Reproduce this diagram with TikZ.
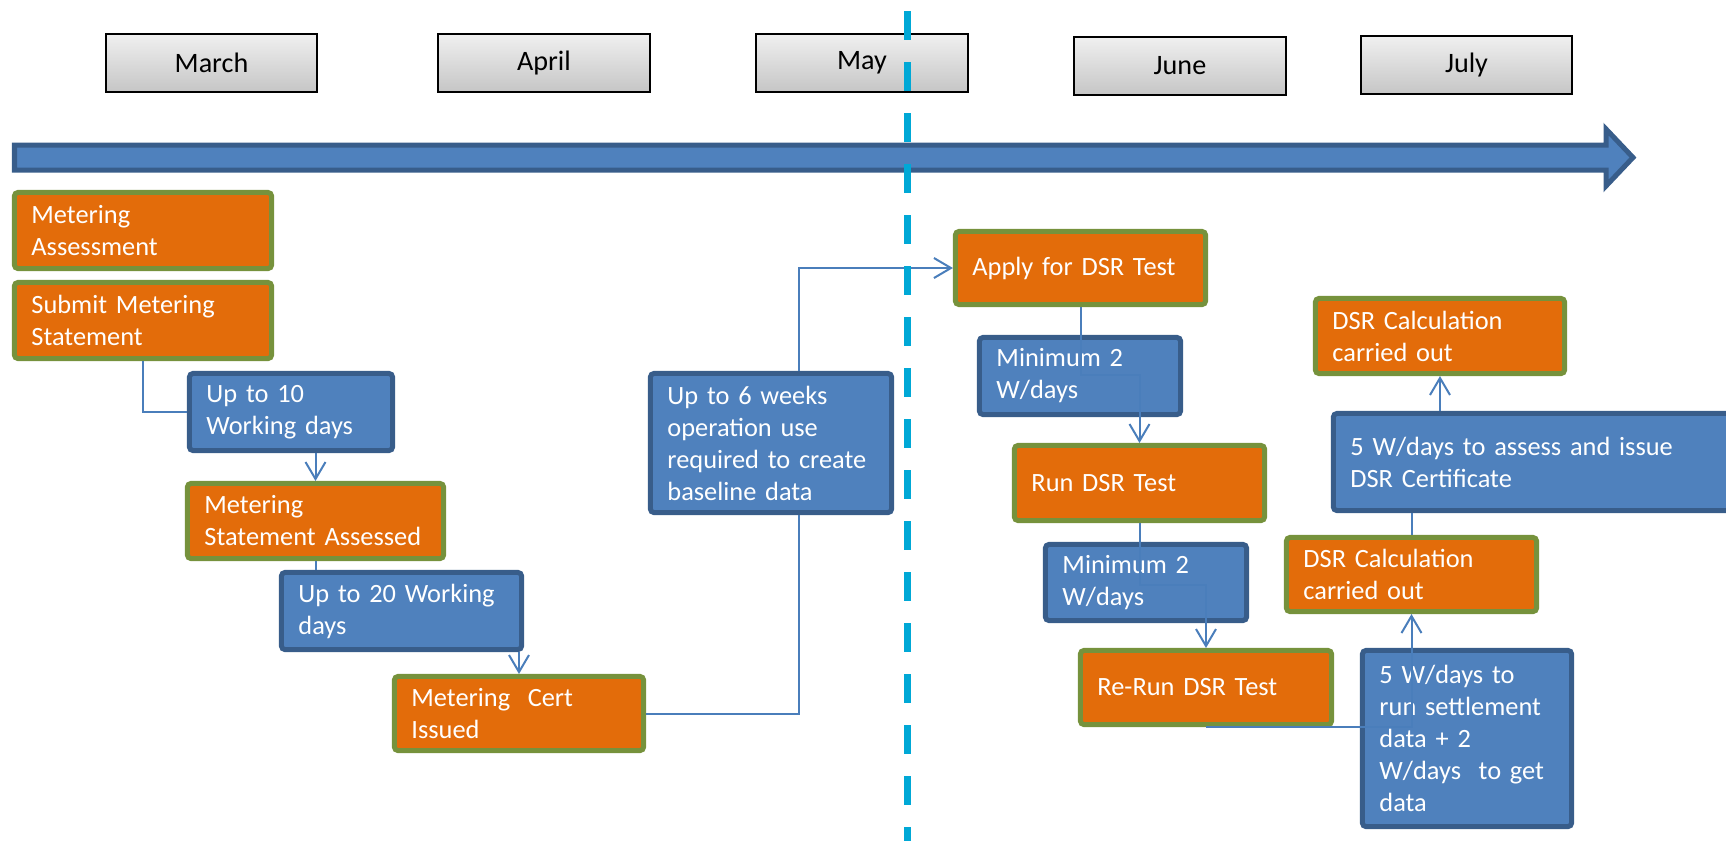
\documentclass[tikz,border=0pt]{standalone}
\definecolor{eventorange}{RGB}{227, 108, 10}
\definecolor{eventgreen}{RGB}{118, 146, 60}
\definecolor{waitblue}{RGB}{79, 129, 189}
\definecolor{waitedge}{RGB}{56, 93, 138}
\definecolor{linkblue}{RGB}{74, 126, 187}
\definecolor{todayblue}{RGB}{0, 168, 214}
\usepackage{fontspec}
\setmainfont{Carlito}
\usepackage{tikz}
\usetikzlibrary{arrows.meta, calc}

\tikzset{
  month/.style={draw=black, line width=0.02cm, top color=gray!12, bottom color=gray!45, inner sep=0pt,
    minimum width=2.11cm, minimum height=0.58cm, font=\fontsize{8}{9.6}\selectfont},
  event/.style={draw=eventgreen, fill=eventorange, line width=0.05cm, text=white, align=left,
    inner xsep=0.17cm, inner ysep=0.05cm, rounded corners=1pt, font=\fontsize{7.5}{9.1}\selectfont},
  wait/.style={event, draw=waitedge, fill=waitblue},
  link/.style={draw=linkblue, line width=0.02cm},
  linkto/.style={link, -{Straight Barb[length=0.17cm, width=0.2cm]}}
}

\begin{document}
\begin{tikzpicture}[x=0.01cm, y=-0.01cm]
  \useasboundingbox (0,0) rectangle (1726,841);
  \clip (0,0) rectangle (1726,841);

  % Month headers
  \node[month] (march) at (211.5, 63) {March};
  \node[month] (april) at (544, 63) {April};
  \node[month] (may) at (862, 63) {May};
  \node[month] (june) at (1180, 66) {June};
  \node[month] (july) at (1466.5, 65) {July};

  % Time axis
  \draw[line width=0.05cm, draw=waitedge, fill=waitblue] (14.5,145) -- (1606,145) -- (1606,129) -- (1633,157.5)
    -- (1606,186) -- (1606,170) -- (14.5,170) -- cycle;

  % Metering steps
  \node[event, text width=2.23cm, minimum height=0.76cm] (assess) at (143, 230.5) {Metering\\Assessment};
  \node[event, text width=2.23cm, minimum height=0.76cm] (submit) at (143, 320.5) {Submit Metering\\Statement};
  \node[wait, text width=1.69cm, minimum height=0.77cm] (upten) at (291, 412) {Up to 10\\Working days};
  \node[event, text width=2.22cm, minimum height=0.75cm] (stmtok) at (315.5, 521) {Metering\\Statement Assessed};
  \node[wait, text width=2.06cm, minimum height=0.77cm] (uptwenty) at (401.5, 611) {Up to 20 Working\\days};
  \node[event, text width=2.15cm, minimum height=0.74cm] (cert) at (519, 713.5) {Metering~ Cert\\Issued};
  \node[wait, text width=2.07cm, minimum height=1.39cm] (sixweeks) at (771, 443)
    {Up to 6 weeks\\operation use\\required to create\\baseline data};

  % DSR steps
  \node[event, text width=2.16cm, minimum height=0.73cm] (apply) at (1080.5, 268) {Apply for DSR Test};
  \node[wait, text width=1.67cm, minimum height=0.77cm] (mintwoa) at (1080, 376) {Minimum 2\\W/days};
  \node[event, text width=2.16cm, minimum height=0.75cm] (rundsr) at (1139.5, 483) {Run DSR Test};
  \node[wait, text width=1.67cm, minimum height=0.76cm] (mintwob) at (1146, 582.5) {Minimum 2\\W/days};
  \node[event, text width=2.17cm, minimum height=0.74cm] (rerun) at (1206, 687.5) {Re-Run DSR Test};
  \node[wait, text width=1.75cm, minimum height=1.76cm] (settle) at (1467, 738.5)
    {5 W/days to\\run settlement\\data + 2\\W/days~ to get\\data};
  \node[event, text width=2.16cm, minimum height=0.74cm] (calclow) at (1411.5, 574.5) {DSR Calculation\\carried out};
  \node[wait, text width=3.90cm, minimum height=0.97cm] (certdays) at (1545.5, 462)
    {5 W/days to assess and issue\\DSR Certificate};
  \node[event, text width=2.15cm, minimum height=0.75cm] (calcup) at (1440, 336) {DSR Calculation\\carried out};

  % Connectors
  \draw[link] (submit.south) |- (upten.west);
  \draw[linkto] (stmtok.north |- upten.south) -- (stmtok.north);
  \draw[link] (stmtok.south) -- (stmtok.south |- uptwenty.north);
  \draw[linkto] (cert.north |- uptwenty.south) -- (cert.north);
  \draw[link] (cert.east) -| ([xshift=0.28cm]sixweeks.south);
  \draw[linkto] ([xshift=0.28cm]sixweeks.north) |- (apply.west);
  \draw[linkto] (apply.south) -- ++(0,68) -| (rundsr.north);
  \draw[linkto] (rundsr.south) -- ++(0,62) -| (rerun.north);
  \draw[linkto] (rerun.south) -| (calclow.south);
  \draw[link] (calclow.north) -- (calclow.north |- certdays.south);
  \draw[linkto] (calcup.south |- certdays.north) -- (calcup.south);

  % Today line
  \draw[todayblue, line width=0.07cm, dash pattern=on 0.29cm off 0.22cm] (907,11) -- (907,841);
\end{tikzpicture}
\end{document}
